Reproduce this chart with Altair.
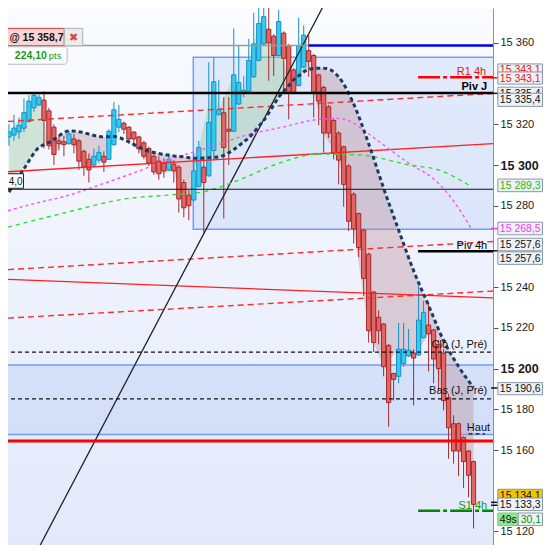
import altair as alt
import pandas as pd

FONT = "Liberation Sans"
W, H = 485, 537          # plot area (reference plot area 500 x 554 scaled to fit the page)
PAD_RIGHT = 51
SX, SY = W / 500.0, H / 554.0
X_DOMAIN = [-0.194, 96.893]
Y_DOMAIN = [15113.33, 15377.14]

# ---------------- candles ----------------
opens = [
    15313.8, 15314.7, 15316.2, 15318.1, 15321.4, 15328.1, 15329.5, 15331.9, 15326.6, 15318.6,
    15311.9, 15311.4, 15310.5, 15312.8, 15311.9, 15306.7, 15302.8, 15300.0, 15302.4, 15304.3,
    15302.8, 15310.0, 15318.6, 15320.5, 15318.6, 15316.2, 15313.8, 15310.9, 15308.1, 15304.3,
    15301.9, 15301.0, 15297.6, 15300.5, 15299.0, 15291.4, 15285.2, 15282.8, 15289.5, 15299.0,
    15294.7, 15307.1, 15324.7, 15325.7, 15317.6, 15316.6, 15330.0, 15335.2, 15336.2, 15343.3,
    15351.4, 15359.5, 15366.7, 15363.3, 15353.8, 15364.8, 15358.6, 15346.7, 15339.0, 15348.1,
    15356.2, 15353.8, 15344.3, 15338.1, 15328.6, 15321.9, 15315.7, 15309.0, 15299.5, 15285.7,
    15276.2, 15268.1, 15256.2, 15237.6, 15225.2, 15221.9, 15211.4, 15197.6, 15196.2, 15202.4,
    15206.2, 15207.6, 15206.7, 15215.2, 15221.4, 15219.0, 15211.9, 15207.6, 15185.7, 15172.9,
    15172.9, 15166.2, 15159.5, 15154.3]
highs = [
    15320.0, 15324.7, 15323.3, 15332.8, 15334.3, 15335.7, 15334.7, 15336.2, 15328.1, 15320.0,
    15314.7, 15314.3, 15316.6, 15315.2, 15312.8, 15307.6, 15305.7, 15308.1, 15309.5, 15306.7,
    15317.6, 15330.9, 15329.5, 15321.4, 15319.0, 15316.6, 15314.3, 15311.9, 15309.0, 15305.7,
    15304.3, 15303.3, 15305.7, 15302.4, 15300.0, 15292.8, 15287.6, 15305.7, 15311.9, 15304.3,
    15350.5, 15352.9, 15341.9, 15333.3, 15333.3, 15367.1, 15358.6, 15343.8, 15361.9, 15374.8,
    15379.0, 15379.0, 15377.1, 15364.3, 15376.2, 15365.7, 15359.5, 15347.6, 15372.4, 15368.6,
    15363.8, 15354.7, 15344.8, 15339.0, 15329.5, 15322.8, 15316.6, 15309.5, 15300.5, 15286.6,
    15276.6, 15268.6, 15257.0, 15238.0, 15228.6, 15222.4, 15212.0, 15198.0, 15222.4, 15222.4,
    15219.5, 15209.5, 15240.5, 15233.3, 15232.8, 15219.5, 15213.8, 15209.5, 15187.6, 15177.1,
    15173.5, 15166.7, 15160.0, 15154.8]
lows = [
    15309.5, 15311.9, 15312.8, 15316.2, 15320.9, 15326.2, 15329.0, 15308.1, 15307.6, 15300.0,
    15307.1, 15304.3, 15310.0, 15305.7, 15297.6, 15294.7, 15291.4, 15299.0, 15301.0, 15296.6,
    15302.4, 15309.5, 15316.2, 15315.2, 15310.5, 15309.0, 15305.7, 15302.8, 15299.5, 15295.2,
    15292.8, 15293.8, 15297.1, 15291.4, 15276.6, 15274.3, 15272.9, 15282.4, 15289.0, 15266.7,
    15294.3, 15302.4, 15324.3, 15273.8, 15300.0, 15316.2, 15329.5, 15333.3, 15335.2, 15342.8,
    15350.9, 15359.0, 15341.4, 15343.8, 15353.3, 15335.2, 15322.4, 15335.2, 15338.6, 15347.6,
    15343.3, 15323.3, 15319.5, 15306.2, 15313.3, 15302.8, 15290.5, 15279.5, 15267.6, 15261.4,
    15254.7, 15235.7, 15212.8, 15208.1, 15211.9, 15196.2, 15171.4, 15184.3, 15192.8, 15200.9,
    15205.7, 15181.9, 15206.2, 15214.8, 15198.6, 15192.8, 15189.0, 15179.5, 15155.7, 15153.3,
    15147.1, 15141.4, 15136.8, 15121.4]
closes = [
    15316.2, 15318.1, 15319.5, 15325.7, 15331.4, 15334.3, 15333.3, 15321.9, 15309.5, 15305.2,
    15310.5, 15310.0, 15315.2, 15310.0, 15301.9, 15299.0, 15297.6, 15304.3, 15306.2, 15301.4,
    15316.6, 15327.1, 15322.4, 15317.6, 15312.8, 15312.8, 15308.1, 15304.3, 15301.0, 15296.6,
    15295.7, 15297.1, 15302.8, 15297.1, 15283.3, 15279.0, 15280.0, 15297.1, 15308.6, 15291.4,
    15320.9, 15340.9, 15327.1, 15308.6, 15316.6, 15344.3, 15340.5, 15336.6, 15351.4, 15359.5,
    15369.5, 15372.9, 15360.0, 15353.8, 15370.5, 15352.4, 15335.2, 15335.7, 15358.6, 15363.8,
    15350.9, 15335.7, 15331.4, 15315.7, 15315.7, 15305.7, 15302.4, 15290.5, 15272.4, 15268.6,
    15259.5, 15244.3, 15218.6, 15212.8, 15218.6, 15200.9, 15183.3, 15194.7, 15209.5, 15209.5,
    15209.0, 15205.2, 15223.8, 15227.6, 15217.1, 15204.7, 15200.0, 15184.3, 15170.9, 15159.5,
    15159.5, 15154.3, 15147.6, 15133.3]

# ---------------- indicator curves ----------------
navy_i = [0, 3, 6, 7, 7.9, 9, 12, 15, 16, 18, 19, 20, 21, 24, 27, 30, 33, 35, 36, 37.6,
          38, 41, 42, 45, 47, 48, 50, 51, 53, 54, 55, 56, 57, 58, 59, 60, 60.3, 61, 63, 66,
          69, 72, 75, 78, 81, 84, 87, 90, 93]
navy_p = [15286.7, 15298.1, 15308.6, 15310.0, 15311.0, 15312.6, 15316.7, 15315.9, 15315.2, 15314.0,
          15313.8, 15313.9, 15314.0, 15311.4, 15307.6, 15305.7, 15304.5, 15304.0, 15303.6, 15303.3,
          15303.3, 15303.8, 15304.0, 15307.6, 15311.4, 15313.3, 15319.0, 15321.9, 15329.5, 15333.3,
          15336.2, 15339.0, 15341.9, 15343.8, 15345.7, 15347.1, 15347.2, 15347.4, 15347.6, 15343.3,
          15330.0, 15310.5, 15288.6, 15268.1, 15248.1, 15231.0, 15213.8, 15201.0, 15190.6]

# shaded band between the navy curve and price (green = price above, mauve = price below)
band_green_1_i = [0, 3, 6, 7, 7.9]
band_green_1_p = [15316.2, 15325.7, 15333.3, 15321.9, 15311.0]
band_mauve_1_i = [7.9, 9, 12, 15, 16, 18, 19, 20, 21, 24, 27, 30, 33, 35, 36, 37.6]
band_mauve_1_p = [15311.0, 15305.2, 15315.2, 15299.0, 15297.6, 15306.2, 15301.4, 15313.9, 15314.0,
                  15311.4, 15304.3, 15295.7, 15297.1, 15279.0, 15280.0, 15303.3]
band_green_2_i = [37.6, 38, 41, 42, 45, 47, 48, 50, 51, 53, 54, 55, 56, 57, 58, 59, 60, 60.3]
band_green_2_p = [15303.3, 15308.6, 15340.9, 15327.1, 15344.3, 15336.6, 15351.4, 15369.5, 15372.9,
                  15353.8, 15370.5, 15352.4, 15339.0, 15341.9, 15358.6, 15363.8, 15350.9, 15347.2]
band_mauve_2_i = [60.3, 61, 63, 66, 69, 72, 75, 78, 81, 84, 87, 90, 93]
band_mauve_2_p = [15347.2, 15335.7, 15315.7, 15302.4, 15268.6, 15218.6, 15200.9, 15209.5, 15205.2,
                  15217.1, 15184.3, 15159.5, 15153.3]

magenta_i = [-0.19, 5.63, 11.46, 17.28, 25.05, 32.82, 40.58, 46.99, 54.76, 61.94, 65.83, 68.35,
             71.26, 73.59, 80.0, 85.83, 89.13, 92.6]
magenta_p = [15277.6, 15281.4, 15284.8, 15289.5, 15296.2, 15303.3, 15309.0, 15314.3, 15318.6,
             15322.4, 15322.9, 15321.4, 15316.7, 15312.4, 15301.0, 15291.4, 15281.9, 15268.5]
green_i = [-0.19, 11.46, 23.11, 32.82, 38.64, 45.83, 54.17, 61.94, 70.29, 80.0, 86.6, 92.6]
green_p = [15269.5, 15276.7, 15283.3, 15285.4, 15286.7, 15292.4, 15301.0, 15305.4, 15304.9,
           15300.1, 15297.1, 15289.3]

# sloped lines: start / end index and prices
slope_i = [-0.19, 96.9]
red_dash_upper = [15321.4, 15335.2]
red_solid_upper = [15296.7, 15310.5]
red_dash_mid = [15248.6, 15262.4]
red_dash_low = [15224.8, 15238.1]
red_solid_desc = [15243.8, 15234.7]
trend_i = [6.27, 62.72]
trend_p = [15113.33, 15377.14]

# horizontal levels
entry_price = 15358.7
entry_i = 60
piv_j = 15335.4
r1_4h = 15343.1
piv_4h = 15257.6
s1_4h = 15130.1
close_prev = 15208.1
low_prev = 15185.1
high_mark = 15167.9
red_level = 15164.4
black_level = 15288.1
level_4h_start = 81.9
zone1_start, zone1_lo, zone1_hi = 36.9, 15268.5, 15353.0
zone2_lo, zone2_hi = 15167.6, 15201.7
gold_price = 15134.1
gain_pts = "224,10"
timer = "49s"

axis_ticks = [15120, 15160, 15180, 15200, 15220, 15240, 15280, 15300, 15320, 15360]

# ---------------- helpers ----------------
xs = alt.Scale(domain=X_DOMAIN, nice=False, zero=False)
ys = alt.Scale(domain=Y_DOMAIN, nice=False, zero=False)
YAXIS = alt.Axis(
    orient="right", values=axis_ticks, title=None, grid=False,
    labelExpr="replace(format(datum.value, ',d'), ',', ' ')",
    domainColor="#8494a6", domainWidth=1, tickColor="#555", tickSize=5,
    labelPadding=2, labelFont=FONT, labelColor="#1a1a1a",
    labelFontSize={"condition": {"test": "datum.value % 100 === 0", "value": 12.5}, "value": 11},
    labelFontWeight={"condition": {"test": "datum.value % 100 === 0", "value": "bold"}, "value": "normal"},
    labelBaseline="middle",
)


def X(f):
    return alt.X(f, type="quantitative", scale=xs, axis=None)


def Y(f, **kw):
    return alt.Y(f, type="quantitative", scale=ys, axis=YAXIS, **kw)


one = pd.DataFrame({"k": [0]})


def cx(v):
    return v * SX


def cy(v):
    return v * SY


def line(ii, pp, **style):
    df = pd.DataFrame({"i": ii, "p": pp})
    return alt.Chart(df).mark_line(clip=True, **style).encode(x=X("i"), y=Y("p"))


def hline(price, i0, i1, **style):
    df = pd.DataFrame({"a": [i0], "b": [i1], "p": [price]})
    return alt.Chart(df).mark_rule(clip=True, **style).encode(x=X("a"), x2=alt.X2("b"), y=Y("p"))


def box(x0, y0, x1, y1, fill, stroke, sw=1.0, r=0):
    return alt.Chart(one).mark_rect(fill=fill, stroke=stroke, strokeWidth=sw, cornerRadius=r).encode(
        x=alt.value(cx(x0)), x2=alt.value(cx(x1)), y=alt.value(cy(y0)), y2=alt.value(cy(y1)))


def txt(text, x, y, color="#111", size=11, weight="normal", align="left", baseline="middle"):
    return alt.Chart(one).mark_text(text=text, align=align, baseline=baseline, font=FONT,
                                    fontSize=size, fontWeight=weight, color=color).encode(
        x=alt.value(cx(x)), y=alt.value(cy(y)))


def tick(y, color, x0=498, x1=505, sw=1.5):
    return alt.Chart(one).mark_rule(color=color, strokeWidth=sw).encode(
        x=alt.value(cx(x0)), x2=alt.value(cx(x1)), y=alt.value(cy(y)))


def fmt(v):
    return f"{v:,.1f}".replace(",", " ").replace(".", ",")


layers = []

# background gradient
grad = alt.Gradient(gradient="linear", x1=0, x2=0, y1=0, y2=1, stops=[
    alt.GradientStop(color="#fafbff", offset=0),
    alt.GradientStop(color="#eef2fd", offset=0.5),
    alt.GradientStop(color="#e3e9fb", offset=1)])
layers.append(alt.Chart(one).mark_rect(fill=grad).encode(
    x=alt.value(0), x2=alt.value(W), y=alt.value(0), y2=alt.value(H)))

# zones
z1 = pd.DataFrame({"a": [zone1_start], "b": [120], "lo": [zone1_lo], "hi": [zone1_hi]})
layers.append(alt.Chart(z1).mark_rect(clip=True, fill="#b0c8f5", fillOpacity=0.3, stroke="#6f9ef5",
                                      strokeWidth=1.5).encode(
    x=X("a"), x2=alt.X2("b"), y=Y("lo"), y2=alt.Y2("hi")))
z2 = pd.DataFrame({"a": [-5], "b": [120], "lo": [zone2_lo], "hi": [zone2_hi]})
layers.append(alt.Chart(z2).mark_rect(clip=True, fill="#b0c8f5", fillOpacity=0.37, stroke="#6f9ef5",
                                      strokeWidth=1.5).encode(
    x=X("a"), x2=alt.X2("b"), y=Y("lo"), y2=alt.Y2("hi")))

# shaded bands
navy_map = dict(zip(navy_i, navy_p))


def band(ii, pp, seg):
    return pd.DataFrame({"i": ii, "navy": [navy_map[v] for v in ii], "edge": pp, "seg": seg})


green_band = pd.concat([band(band_green_1_i, band_green_1_p, "g1"), band(band_green_2_i, band_green_2_p, "g2")])
mauve_band = pd.concat([band(band_mauve_1_i, band_mauve_1_p, "m1"), band(band_mauve_2_i, band_mauve_2_p, "m2")])
for df, col in [(green_band, "#98c89c"), (mauve_band, "#bc909c")]:
    layers.append(alt.Chart(df).mark_area(clip=True, color=col, fillOpacity=0.4).encode(
        x=X("i"), y=Y("navy", stack=None), y2=alt.Y2("edge"), detail="seg:N"))

# candles
cd = pd.DataFrame({"i": list(range(len(opens))), "open": opens, "high": highs, "low": lows, "close": closes})
cd["i0"] = cd["i"] - 0.42
cd["i1"] = cd["i"] + 0.42
up = cd[cd["close"] >= cd["open"]]
dn = cd[cd["close"] < cd["open"]]
for df, body, edge in [(up, "#35cbf0", "#1590c4"), (dn, "#e26666", "#a52a2a")]:
    layers.append(alt.Chart(df).mark_rule(clip=True, color=edge, strokeWidth=1).encode(
        x=X("i"), y=Y("low"), y2=alt.Y2("high")))
    layers.append(alt.Chart(df).mark_rect(clip=True, fill=body, stroke=edge, strokeWidth=1).encode(
        x=X("i0"), x2=alt.X2("i1"), y=Y("open"), y2=alt.Y2("close")))

# sloped lines
layers.append(line(slope_i, red_dash_upper, color="#ff2a2a", strokeWidth=1.4, strokeDash=[6, 4]))
layers.append(line(slope_i, red_dash_mid, color="#ff2a2a", strokeWidth=1.4, strokeDash=[6, 4]))
layers.append(line(slope_i, red_dash_low, color="#ff2a2a", strokeWidth=1.4, strokeDash=[6, 4]))
layers.append(line(slope_i, red_solid_upper, color="#ff2020", strokeWidth=1.3))
layers.append(line(slope_i, red_solid_desc, color="#ff2020", strokeWidth=1.3))
layers.append(line(trend_i, trend_p, color="#222222", strokeWidth=1.3))

# indicator curves
layers.append(line(magenta_i, magenta_p, color="#ff4dff", strokeWidth=1.4, strokeDash=[3, 3], interpolate="monotone"))
layers.append(line(green_i, green_p, color="#2ee02e", strokeWidth=1.4, strokeDash=[4, 4], interpolate="monotone"))
layers.append(line(navy_i, navy_p, color="#1c3a64", strokeWidth=3, strokeDash=[4, 3], interpolate="monotone"))

# horizontal levels
layers.append(hline(entry_price, -1, entry_i, color="#9a9a9a", strokeWidth=1.5))
layers.append(hline(entry_price, entry_i, 100, color="#0000ee", strokeWidth=2.5))
layers.append(hline(piv_j, -1, 100, color="#000000", strokeWidth=2.5))
layers.append(hline(r1_4h, level_4h_start, 100, color="#ff0000", strokeWidth=2.5, strokeDash=[22, 3, 4, 3]))
layers.append(hline(black_level, -1, 100, color="#111111", strokeWidth=1.2))
layers.append(hline(piv_4h, level_4h_start, 100, color="#000000", strokeWidth=2.5))
layers.append(hline(close_prev, -1, 100, color="#111111", strokeWidth=1.2, strokeDash=[4, 3]))
layers.append(hline(low_prev, -1, 100, color="#111111", strokeWidth=1.2, strokeDash=[4, 3]))
layers.append(hline(high_mark, 92.0, 95.3, color="#111111", strokeWidth=1.2, strokeDash=[4, 3]))
layers.append(hline(red_level, -1, 100, color="#ff0000", strokeWidth=3))
layers.append(hline(s1_4h, level_4h_start, 100, color="#008800", strokeWidth=2.5, strokeDash=[22, 3, 4, 3]))

# level labels
layers.append(txt("R1 4h", 493, 69, color="#ee1111", align="right", baseline="alphabetic"))
layers.append(txt("Piv J", 494, 84.5, color="#000", weight="bold", align="right", baseline="alphabetic"))
layers.append(txt("Piv 4h", 494, 248.5, color="#000", align="right", baseline="alphabetic"))
layers.append(txt("Clô (J, Pré)", 494, 351, color="#111", align="right", baseline="alphabetic"))
layers.append(txt("Bas (J, Pré)", 494, 398.5, color="#111", align="right", baseline="alphabetic"))
layers.append(txt("Haut", 497, 436, color="#111", align="right", baseline="alphabetic"))
layers.append(txt("S1 4h", 494, 516.5, color="#119911", align="right", baseline="alphabetic"))

# right-side value boxes
BOXF, BOXS = "#eef1f6", "#8797a8"


def vbox(y0, y1, value, color, fill=BOXF):
    return [box(505, y0, 551, y1, fill, BOXS), txt(fmt(value), 507, (y0 + y1) / 2 + 0.5, color=color, size=10.5)]


layers.append(tick(72, "#ee1111"))
layers.append(tick(88, "#111"))
layers.append(tick(227.5, "#ff33ff"))
layers.append(tick(250.5, "#111"))
layers.append(tick(392, "#111"))
layers.append(tick(510, "#111"))
layers.append(tick(513, "#111"))
layers += vbox(57.7, 70.2, r1_4h, "#ee1111")
layers += vbox(66, 78.5, r1_4h, "#ee1111")
layers += vbox(81.7, 94, piv_j, "#111")
layers += vbox(88, 101.5, piv_j, "#111")
layers += vbox(176.5, 189.5, green_p[-1], "#22bb22")
layers += vbox(221, 234, magenta_p[-1], "#ff33ff")
layers += vbox(237.5, 250.5, piv_4h, "#111")
layers += vbox(251.5, 264.5, piv_4h, "#111")
layers += vbox(386.5, 399, navy_p[-1], "#111")
layers += vbox(496.5, 509, gold_price, "#111", fill="#f4c400")
layers += vbox(505.5, 518.5, closes[-1], "#111")
layers.append(box(505, 521, 526, 534, "#8fe98f", "#7cc47c"))
layers.append(txt(timer, 507, 528, color="#111", size=10.5))
layers.append(box(526, 521, 551, 534, "#eef4ee", BOXS))
layers.append(txt(fmt(s1_4h).split(" ")[1][1:], 528.5, 528, color="#109010", size=10.5))

# top-left position panel
layers.append(box(-2, 21, 58, 39, "#f8d4d4", "#dd3333"))
layers.append(txt("@ " + fmt(entry_price), 1.5, 30.5, color="#111", size=10.5, weight="bold"))
layers.append(box(58, 21, 77, 39, "#ececec", "#b0b0b0"))
layers.append(txt("✖", 67.5, 30.5, color="#dd4444", size=11, align="center"))
layers.append(box(-2, 40, 61, 58, "#ffffff", "#b8b8b8", r=3))
layers.append(txt(gain_pts, 7, 49.5, color="#189818", size=10.5, weight="bold"))
layers.append(txt("pts", 42, 50, color="#189818", size=9.5))
layers.append(box(-5, 171, 16, 186, "#ffffff", "#222222"))
layers.append(txt("4,0", 15, 179, color="#111", size=10, align="right"))

chart = alt.layer(*layers).properties(
    width=W, height=H,
    padding={"left": 0, "top": 0, "right": PAD_RIGHT, "bottom": 0},
    autosize=alt.AutoSizeParams(type="none"),
    background="white",
).configure_view(strokeWidth=0)

chart.save("out.html", embed_options={"renderer": "svg", "actions": False})
